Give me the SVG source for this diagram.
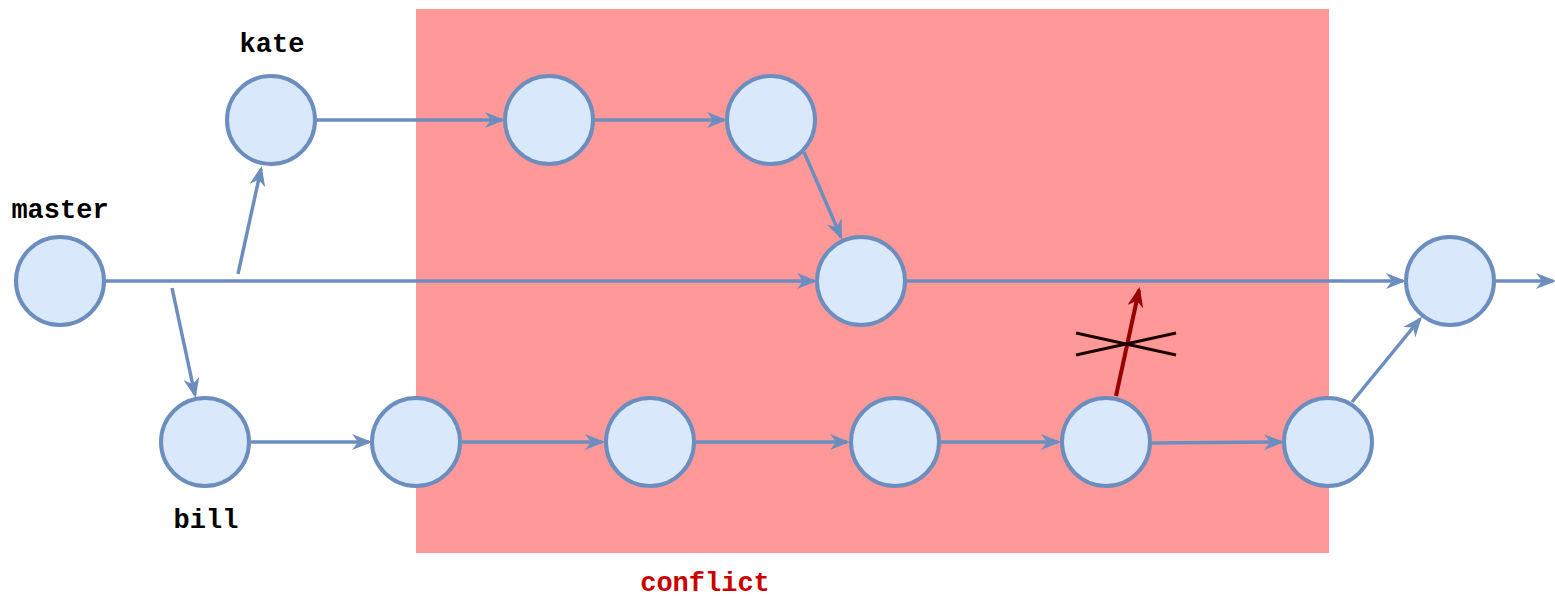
<svg xmlns="http://www.w3.org/2000/svg" width="1555" height="597" viewBox="0 0 1555 597">
<style>
.node{fill:#dae8fc;stroke:#6c8ebf;stroke-width:4}
.edge{fill:none;stroke:#6c8ebf;stroke-width:3.5;marker-end:url(#arr)}
.lbl{font-family:"Liberation Mono","DejaVu Sans Mono",monospace;font-weight:bold;font-size:27px;fill:#000;text-anchor:middle}
</style>
<defs>
<marker id="arr" viewBox="0 0 20 16" refX="17" refY="8" markerWidth="20" markerHeight="16" markerUnits="userSpaceOnUse" orient="auto">
<path d="M0,0 L20,8 L0,16 L6,8 z" fill="#6c8ebf"/>
</marker>
<marker id="arrRed" viewBox="0 0 20 16" refX="17" refY="8" markerWidth="20" markerHeight="16" markerUnits="userSpaceOnUse" orient="auto">
<path d="M0,0 L20,8 L0,16 L6,8 z" fill="#990000"/>
</marker>
</defs>
<rect width="1555" height="597" fill="#fff"/>
<rect id="conflict-area" x="416" y="9" width="913" height="544" fill="#ff9999"/>
<g id="connectors">
<line class="edge" x1="105" y1="281" x2="814" y2="281"/>
<line class="edge" x1="238" y1="274" x2="261" y2="169"/>
<line class="edge" x1="172" y1="288" x2="195" y2="395"/>
<line class="edge" x1="317" y1="120" x2="502" y2="120"/>
<line class="edge" x1="595" y1="120" x2="724" y2="120"/>
<line class="edge" x1="804" y1="152" x2="841" y2="237"/>
<line class="edge" x1="906" y1="281" x2="1403" y2="281"/>
<line class="edge" x1="1496" y1="281" x2="1553" y2="281"/>
<line class="edge" x1="251" y1="442" x2="369" y2="442"/>
<line class="edge" x1="462" y1="442" x2="602" y2="442"/>
<line class="edge" x1="696" y1="442" x2="847" y2="442"/>
<line class="edge" x1="941" y1="442" x2="1058" y2="442"/>
<line class="edge" x1="1152" y1="443" x2="1281" y2="442"/>
<line class="edge" x1="1352" y1="402" x2="1420" y2="319"/>
<line x1="1116" y1="396" x2="1139" y2="290" stroke="#990000" stroke-width="4" marker-end="url(#arrRed)"/>
<line x1="1076" y1="333" x2="1176" y2="355" stroke="#1a0000" stroke-width="3"/>
<line x1="1076" y1="355" x2="1176" y2="333" stroke="#1a0000" stroke-width="3"/>
</g>
<g id="n-master"><circle class="node" cx="60" cy="281" r="44"/></g>
<g id="n-kate"><circle class="node" cx="271" cy="120" r="44"/></g>
<g id="n-k2"><circle class="node" cx="549" cy="120" r="44"/></g>
<g id="n-k3"><circle class="node" cx="771" cy="120" r="44"/></g>
<g id="n-merge"><circle class="node" cx="861" cy="281" r="44"/></g>
<g id="n-final"><circle class="node" cx="1450" cy="281" r="44"/></g>
<g id="n-bill"><circle class="node" cx="205" cy="442" r="44"/></g>
<g id="n-b2"><circle class="node" cx="416" cy="442" r="44"/></g>
<g id="n-b3"><circle class="node" cx="650" cy="442" r="44"/></g>
<g id="n-b4"><circle class="node" cx="895" cy="442" r="44"/></g>
<g id="n-b5"><circle class="node" cx="1106" cy="442" r="44"/></g>
<g id="n-b6"><circle class="node" cx="1328" cy="442" r="44"/></g>
<g id="labels">
<text class="lbl" x="60" y="218">master</text>
<text class="lbl" x="272" y="52">kate</text>
<text class="lbl" x="206" y="528">bill</text>
<text class="lbl" x="705" y="591" style="fill:#cc0000">conflict</text>
</g>
</svg>
